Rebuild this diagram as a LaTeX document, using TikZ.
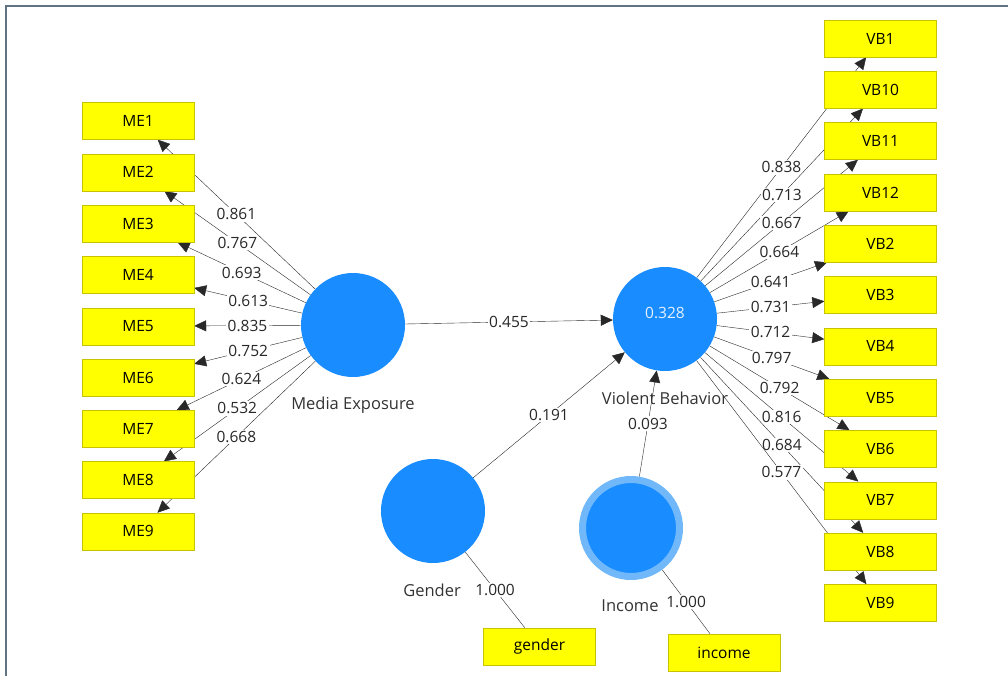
\documentclass[tikz,border=0pt]{standalone}
\usepackage{fontspec}
\setmainfont{Open Sans}
\usetikzlibrary{arrows.meta,backgrounds}

\definecolor{lvblue}{RGB}{25,140,255}
\definecolor{lvring}{RGB}{112,184,250}
\definecolor{indfill}{RGB}{255,255,0}
\definecolor{inddraw}{RGB}{200,195,0}
\definecolor{framecol}{RGB}{95,115,130}
\definecolor{linecol}{RGB}{40,40,40}

\begin{document}
\begin{tikzpicture}[x=1pt, y=-1pt, >={Triangle[length=12pt,width=11pt]},
		font=\fontsize{15.5}{18}\selectfont,
		ind/.style={rectangle, draw=inddraw, fill=indfill, minimum width=112pt, minimum height=37pt, inner sep=0pt},
		lv/.style={circle, fill=lvblue, minimum size=104pt, inner sep=0pt},
		lbl/.style={fill=white, inner sep=1.5pt, text=linecol},
		lvname/.style={text=black!80, font=\fontsize{16.5}{19}\selectfont}]
		
		\useasboundingbox (0,0) rectangle (1008,676);
		
		% Marco
		\draw [framecol, line width=2pt] (6,676) -- (6,6) -- (1008,6);
		
		% Variables latentes
		\node [lv] (me) at (353,325) {};
		\node [lv] (vb) at (665,319) {};
		\node [lv] (gen) at (433,511) {};
		\node [lv, minimum size=97pt, draw=lvring, line width=7pt] (inc) at (631,528) {};
		\node [text=white!88!lvblue] (r2) at (665,313) {0.328};
		
		% Nombres de las variables
		\node [lvname] (me-name) at (353,405) {Media Exposure};
		\node [lvname] (vb-name) at (665,398) {Violent Behavior};
		\node [lvname] (gen-name) at (432,590) {Gender};
		\node [lvname] (inc-name) at (630,606) {Income};
		
		% Indicadores de Media Exposure
		\foreach \i in {1,...,9}
		\node [ind] (me\i) at (138,{121+51.3*(\i-1)}) {ME\i};
		
		% Indicadores de Violent Behavior
		\foreach \t [count=\i] in {1,10,11,12,2,3,4,5,6,7,8,9}
		\node [ind] (vb\t) at (880.5,{38.5+51.3*(\i-1)}) {VB\t};
		
		% Indicadores de un solo item
		\node [ind] (gender) at (539.5,646.5) {gender};
		\node [ind] (income) at (724,652.5) {income};
		
		\begin{scope}[on background layer, line width=0.9pt]
		% Cargas de Media Exposure
		\foreach \i/\l in {1/0.861,2/0.767,3/0.693,4/0.613,5/0.835,6/0.752,7/0.624,8/0.532,9/0.668}
		\draw [->, linecol] (me) -- node [lbl] {\l} (me\i);
		
		% Cargas de Violent Behavior
		\foreach \t/\l in {1/0.838,10/0.713,11/0.667,12/0.664,2/0.641,3/0.731,4/0.712,5/0.797,6/0.792,7/0.816,8/0.684,9/0.577}
		\draw [->, linecol] (vb) -- node [lbl] {\l} (vb\t);
		
		% Coeficientes de ruta
		\draw [->, linecol] (me) -- node [lbl] {0.455} (vb);
		\draw [->, linecol] (gen) -- node [lbl] {0.191} (vb);
		\draw [->, linecol] (inc) -- node [lbl] {0.093} (vb);
		
		% Cargas de un solo item
		\draw [linecol] (gen) -- node [lbl] {1.000} (gender);
		\draw [linecol] (inc) -- node [lbl] {1.000} (income);
		\end{scope}
		
	\end{tikzpicture}
\end{document}
